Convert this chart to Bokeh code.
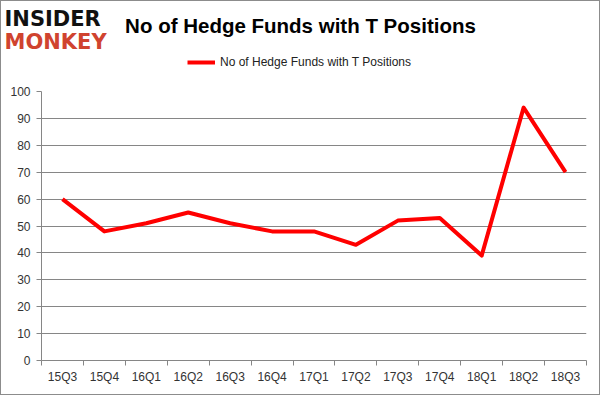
from bokeh.plotting import figure
from bokeh.layouts import column
from bokeh.models import Range1d, FixedTicker, Label, Legend, LegendItem
from bokeh.embed import file_html
from bokeh.resources import INLINE

categories = ["15Q3", "15Q4", "16Q1", "16Q2", "16Q3", "16Q4", "17Q1",
              "17Q2", "17Q3", "17Q4", "18Q1", "18Q2", "18Q3"]
funds = [60, 48, 51, 55, 51, 48, 48, 43, 52, 53, 39, 94, 70]
y_ticks = [0, 10, 20, 30, 40, 50, 60, 70, 80, 90, 100]
title_text = "No of Hedge Funds with T Positions"
series_name = "No of Hedge Funds with T Positions"

W = 598
HH = 80            # header canvas height (page y 1..81)
HM = 313           # main canvas height (page y 81..394)
xs = [i + 0.5 for i in range(len(categories))]

grid_col = "#868686"
label_col = "#333333"
line_col = "#ff0000"
font = "Liberation Sans"
edge = "1px solid #8c8c8c"

# ---- header: logo, title, legend ----
hdr = figure(width=W, height=HH, output_backend="svg", toolbar_location=None,
             x_range=Range1d(0, W), y_range=Range1d(HH, 0),
             x_axis_type=None, y_axis_type=None, min_border=0,
             min_border_left=0, min_border_right=0, min_border_top=0,
             min_border_bottom=0)
hdr.outline_line_color = None
hdr.grid.grid_line_color = None
hdr.background_fill_color = "white"
hdr.border_fill_color = "white"

hdr.add_layout(Label(x=299, y=24, text=title_text, text_font=font,
                     text_font_style="bold", text_font_size="20.5px",
                     text_align="center", text_baseline="middle",
                     text_color="#000000"))
hdr.add_layout(Label(x=3, y=17, text="INSIDER", text_font="DejaVu Sans",
                     text_font_style="bold", text_font_size="21px",
                     text_baseline="middle", text_color="#111111"))
hdr.add_layout(Label(x=3, y=40, text="MONKEY", text_font="DejaVu Sans",
                     text_font_style="bold", text_font_size="21px",
                     text_baseline="middle", text_color="#d0432f"))

# legend sample renderer (no visible mark of its own)
sample = hdr.line([float("nan")], [float("nan")], line_color=line_col, line_width=4)
legend = Legend(items=[LegendItem(label=series_name, renderers=[sample])],
                location=(186, HH - 71), orientation="horizontal",
                label_text_font=font, label_text_font_size="12px",
                label_text_color="#222222", border_line_color=None,
                background_fill_alpha=0, glyph_width=28, glyph_height=20,
                label_height=20, label_standoff=5, margin=0, padding=0)
hdr.add_layout(legend)

# ---- main chart ----
p = figure(width=W, height=HM, output_backend="svg", toolbar_location=None,
           x_range=Range1d(0, len(categories)), y_range=Range1d(0, 100),
           min_border_left=40, min_border_right=W - 585, min_border_top=10,
           min_border_bottom=34)
p.outline_line_color = None
p.background_fill_color = "white"
p.border_fill_color = "white"

p.xaxis.ticker = FixedTicker(ticks=xs, minor_ticks=list(range(len(categories) + 1)))
p.xaxis.major_label_overrides = {x: c for x, c in zip(xs, categories)}
p.xaxis.major_tick_out = 0
p.xaxis.major_tick_in = 0
p.xaxis.minor_tick_out = 5
p.xaxis.minor_tick_in = 0
p.xaxis.minor_tick_line_color = grid_col
p.xaxis.axis_line_color = grid_col
p.xaxis.major_label_text_font = font
p.xaxis.major_label_text_font_size = "12px"
p.xaxis.major_label_text_color = label_col
p.xaxis.major_label_standoff = 4
p.xgrid.grid_line_color = None

p.yaxis.ticker = FixedTicker(ticks=y_ticks)
p.yaxis.major_tick_out = 5
p.yaxis.major_tick_in = 0
p.yaxis.minor_tick_line_color = None
p.yaxis.major_tick_line_color = grid_col
p.yaxis.axis_line_color = grid_col
p.yaxis.major_label_text_font = font
p.yaxis.major_label_text_font_size = "12px"
p.yaxis.major_label_text_color = label_col
p.yaxis.major_label_standoff = 6
p.ygrid.ticker = FixedTicker(ticks=y_ticks[1:])
p.ygrid.grid_line_color = grid_col
p.ygrid.grid_line_width = 1

p.line(xs, funds, line_color=line_col, line_width=4, line_join="round")

top_box = column(hdr, styles={"border-top": edge, "border-left": edge, "border-right": edge})
bot_box = column(p, styles={"border-bottom": edge, "border-left": edge, "border-right": edge})
layout = column(top_box, bot_box, spacing=0)

open("out.html", "w").write(file_html(layout, INLINE))
